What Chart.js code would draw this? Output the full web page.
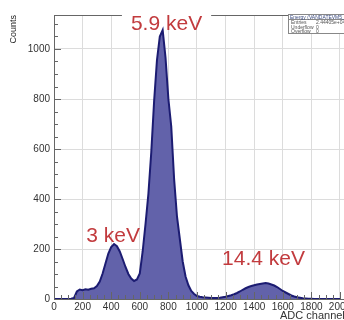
<!DOCTYPE html>
<html>
<head>
<meta charset="utf-8">
<script src="https://cdn.jsdelivr.net/npm/chart.js@4"></script>
<style>
  html, body { margin: 0; padding: 0; background: #fff; overflow: hidden; }
  canvas { display: block; }
</style>
</head>
<body>
<canvas id="spectrum" width="360" height="322"></canvas>
<script>
// ---- spectrum data (ADC channel vs counts) ----
const channels = [
  0, 20, 40, 60, 80, 100, 120, 140, 160, 180,
  200, 220, 240, 260, 280, 300, 320, 340, 360, 380,
  400, 420, 440, 460, 480, 500, 520, 540, 560, 580,
  600, 620, 640, 660, 680, 700, 720, 740, 760, 780,
  800, 820, 840, 860, 880, 900, 920, 940, 960, 980,
  1000, 1020, 1040, 1060, 1080, 1100, 1120, 1140, 1160, 1180,
  1200, 1220, 1240, 1260, 1280, 1300, 1320, 1340, 1360, 1380,
  1400, 1420, 1440, 1460, 1480, 1500, 1520, 1540, 1560, 1580,
  1600, 1620, 1640, 1660, 1680, 1700, 1720, 1740, 1760, 1780,
  1800, 1820, 1840, 1860, 1880, 1900, 1920, 1940, 1960, 1980, 2000
];
const counts = [
  0, 0, 0, 0, 0, 0, 1, 4, 30, 38,
  35, 39, 37, 41, 43, 52, 70, 102, 142, 182,
  208, 220, 211, 190, 160, 128, 100, 82, 72, 78,
  102, 190, 300, 420, 585, 790, 955, 1050, 1076, 965,
  800, 690, 480, 330, 240, 150, 90, 55, 32, 20,
  12, 9, 7, 6, 5, 4, 4, 4, 5, 7,
  9, 12, 15, 19, 24, 30, 37, 43, 48, 52,
  55, 58, 60, 62, 64, 62, 58, 54, 48, 40,
  32, 26, 20, 14, 10, 7, 5, 3, 2, 1,
  1, 0, 0, 0, 0, 0, 0, 0, 0, 0, 0
];
const peakLabels = ["5.9 keV", "3 keV", "14.4 keV"];
const peakLabelPos = [[787, 1076], [413, 228], [1465, 136]];
const statsRows = [["Entries", "2.44405e+04"], ["Underflow", "0"], ["Overflow", "0"]];

const points = channels.map((c, i) => ({ x: c, y: counts[i] }));

// ---- ROOT style frame, inner ticks and annotations ----
const rootFrame = {
  id: "rootFrame",
  afterDraw(chart) {
    const { ctx, chartArea: a, scales: { x, y } } = chart;
    ctx.save();
    ctx.strokeStyle = "#666";
    ctx.lineWidth = 1;
    // inner tick marks
    ctx.beginPath();
    for (let v = 0; v <= 1100; v += 50) {
      const py = Math.round(y.getPixelForValue(v)) + 0.5;
      const len = v % 200 === 0 ? 7 : 4;
      ctx.moveTo(a.left, py);
      ctx.lineTo(a.left + len, py);
    }
    for (let v = 0; v <= 2100; v += 50) {
      const px = Math.round(x.getPixelForValue(v)) + 0.5;
      const len = v % 200 === 0 ? 7 : 4;
      ctx.moveTo(px, a.bottom);
      ctx.lineTo(px, a.bottom - len);
    }
    // top frame line
    ctx.moveTo(a.left, a.top + 0.5);
    ctx.lineTo(a.right, a.top + 0.5);
    ctx.stroke();

    // peak labels
    ctx.font = "21px 'Liberation Sans', Arial, sans-serif";
    ctx.textAlign = "center";
    ctx.textBaseline = "alphabetic";
    peakLabels.forEach((t, i) => {
      const px = x.getPixelForValue(peakLabelPos[i][0]);
      const py = y.getPixelForValue(peakLabelPos[i][1]);
      const w = ctx.measureText(t).width;
      if (i === 0) {
        ctx.fillStyle = "#fff";
        ctx.fillRect(px - w / 2 - 9, a.top - 4, w + 18, 9);
      }
      ctx.fillStyle = "#c23b3e";
      ctx.fillText(t, px, py);
    });

    // stats box
    const bx = 288, by = 14;
    ctx.fillStyle = "#fff";
    ctx.fillRect(bx, by, 70, 19);
    ctx.strokeStyle = "#888";
    ctx.strokeRect(bx + 0.5, by + 0.5, 70, 19);
    ctx.beginPath();
    ctx.moveTo(bx, by + 5.5);
    ctx.lineTo(bx + 70, by + 5.5);
    ctx.stroke();
    ctx.font = "5px 'Liberation Sans', Arial, sans-serif";
    ctx.textAlign = "left";
    ctx.fillStyle = "#3a4a80";
    ctx.fillText("Energy (VANDATEVM5_00m)", bx + 2, by + 4.5);
    ctx.fillStyle = "#555";
    statsRows.forEach((r, i) => {
      ctx.fillText(r[0], bx + 3, by + 10 + i * 4.5);
      ctx.fillText(r[1], bx + 28, by + 10 + i * 4.5);
    });

    // x axis title (cut by the window edge)
    ctx.font = "11px 'Liberation Sans', Arial, sans-serif";
    ctx.textAlign = "left";
    ctx.fillStyle = "#333";
    ctx.fillText("ADC channel", 280, 319);
    ctx.restore();
  }
};

const spectrumCanvas = document.getElementById("spectrum");

const spectrumChart = new Chart(spectrumCanvas, {
  type: "line",
  data: {
    datasets: [
      {
        label: "",
        data: points,
        borderColor: "#1c1c72",
        backgroundColor: "#6262aa",
        borderWidth: 2,
        pointRadius: 0,
        tension: 0,
        fill: "origin",
      },
    ],
  },
  options: {
    responsive: false,
    animation: false,
    layout: { padding: { top: 15, right: 0, left: 0, bottom: 0 } },
    plugins: {
      legend: { display: false },
      tooltip: { enabled: false },
    },
    scales: {
      x: {
        type: "linear",
        min: 0,
        max: 2140,
        afterFit: (s) => { s.height = 23; },
        grid: { color: "#dcdcdc", drawTicks: false },
        border: { color: "#666" },
        ticks: {
          stepSize: 200,
          includeBounds: false,
          maxRotation: 0,
          autoSkip: false,
          padding: 2,
          color: "#333",
          font: { family: "'Liberation Sans', Arial, sans-serif", size: 10 },
          callback: (v) => String(v),
        },
      },
      y: {
        min: 0,
        max: 1136,
        afterFit: (s) => { s.width = 54; },
        grid: { color: "#dcdcdc", drawTicks: false },
        border: { color: "#666" },
        ticks: {
          stepSize: 200,
          includeBounds: false,
          padding: 4,
          color: "#333",
          font: { family: "'Liberation Sans', Arial, sans-serif", size: 10 },
          callback: (v) => String(v),
        },
        title: {
          display: true,
          text: "Counts",
          align: "end",
          color: "#222",
          padding: { top: 8, bottom: 0 },
          font: { family: "'Liberation Sans', Arial, sans-serif", size: 9 },
        },
      },
    },
  },
  plugins: [rootFrame],
});
</script>
</body>
</html>
